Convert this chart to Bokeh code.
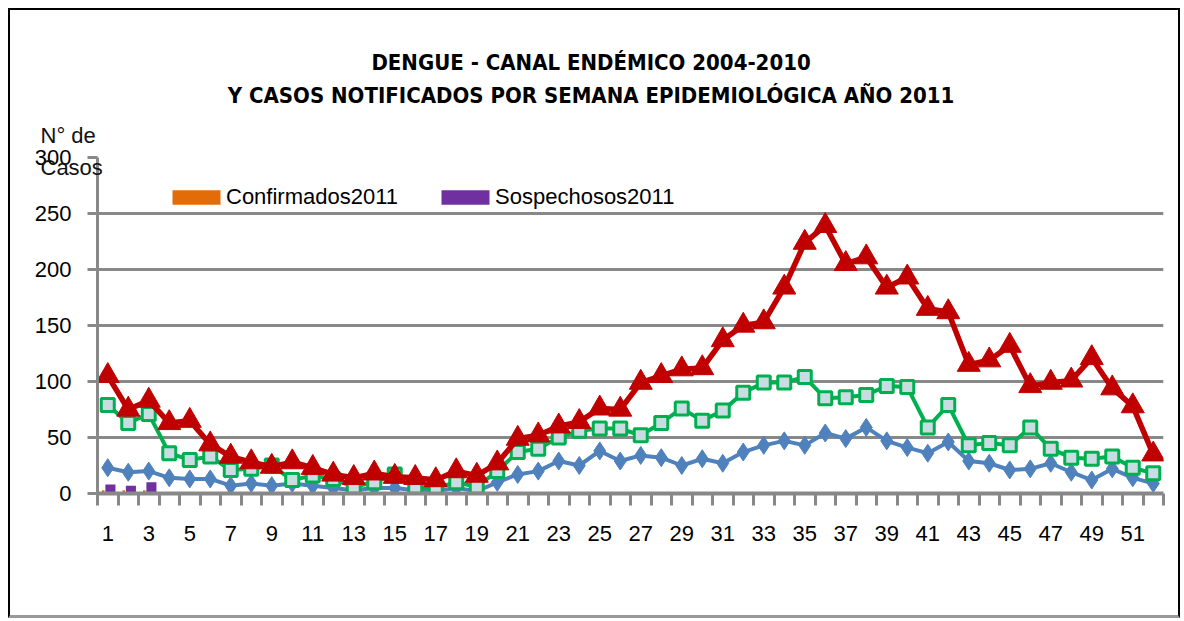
from bokeh.plotting import figure
from bokeh.layouts import column
from bokeh.models import Range1d, FixedTicker, Legend, LegendItem, Title
from bokeh.core.properties import value
from bokeh.embed import file_html
from bokeh.resources import INLINE

weeks = list(range(1, 53))
tick_labels = [str(w) for w in weeks if w % 2 == 1]

epidemia = [105, 75, 83, 63, 65, 44, 33, 28, 24, 28, 23, 17, 14, 18, 15, 14, 12, 20, 16, 27,
            49, 52, 60, 64, 76, 75, 99, 105, 111, 112, 137, 150, 153, 184, 224, 239, 205, 211, 184, 193,
            165, 162, 115, 119, 132, 96, 99, 101, 121, 94, 78, 35]
alerta = [79, 63, 71, 36, 30, 33, 21, 22, 25, 12, 16, 13, 6, 10, 17, 6, 5, 10, 6, 20,
          37, 40, 50, 56, 58, 58, 52, 63, 76, 65, 74, 90, 99, 99, 104, 85, 86, 88, 96, 95,
          59, 79, 43, 45, 43, 59, 40, 32, 31, 33, 23, 18]
seguridad = [23, 19, 20, 14, 13, 13, 7, 9, 7, 9, 7, 5, 3, 5, 5, 3, 2, 5, 2, 10,
             17, 20, 29, 25, 38, 29, 34, 32, 25, 31, 27, 37, 43, 47, 43, 54, 49, 59, 47, 41,
             36, 46, 29, 27, 21, 22, 27, 19, 12, 22, 14, 9]

bar_weeks = [1, 2, 3]
confirmados = [3, 3, 3]
sospechosos = [8, 7, 10]

title_lines = ["DENGUE - CANAL ENDÉMICO  2004-2010",
               "Y CASOS NOTIFICADOS POR SEMANA EPIDEMIOLÓGICA  AÑO 2011"]
y_label_lines = ["N° de", "Casos"]

GRAY = "#888888"
FONT = "Liberation Sans"
NARROW = "Liberation Sans Narrow, DejaVu Sans Condensed, Liberation Sans"

W = 1168
HEAD_H = 101
FRAME_L, FRAME_R = 87, W - 15

# ---- header strip carrying the two centred title lines ----
# (the column aligns its plot areas, so the header's x range spans the same pixels as the chart's)
head = figure(width=W, height=HEAD_H, output_backend="svg", toolbar_location=None,
              x_range=Range1d(FRAME_L, FRAME_R), y_range=Range1d(HEAD_H, 0),
              x_axis_type=None, y_axis_type=None,
              min_border=0, min_border_left=0, min_border_right=0,
              min_border_top=0, min_border_bottom=0)
head.title.visible = False
head.outline_line_color = None
head.grid.visible = False
head.text(x=[W / 2, W / 2], y=[52, 85], text=title_lines,
          text_align="center", text_baseline="middle",
          text_font=value(NARROW), text_font_style="bold",
          text_font_size="22px", text_color="#000")

# ---- main chart ----
p = figure(width=W, height=615 - 10 - HEAD_H, output_backend="svg", toolbar_location=None,
           x_range=Range1d(0.5, 52.5), y_range=Range1d(0, 300),
           min_border_left=FRAME_L, min_border_right=15, min_border_top=0, min_border_bottom=122)
p.title.visible = False
p.outline_line_color = None
p.background_fill_color = "white"

# grid
p.xgrid.visible = False
p.ygrid.ticker = FixedTicker(ticks=[50, 100, 150, 200, 250, 300])
p.ygrid.grid_line_color = GRAY
p.ygrid.grid_line_width = 3

# y axis
p.yaxis.ticker = FixedTicker(ticks=[0, 50, 100, 150, 200, 250, 300])
p.yaxis.axis_line_color = GRAY
p.yaxis.axis_line_width = 3
p.yaxis.major_tick_line_color = GRAY
p.yaxis.major_tick_line_width = 3
p.yaxis.major_tick_out = 10
p.yaxis.major_tick_in = 0
p.yaxis.minor_tick_line_color = None
p.yaxis.major_label_standoff = 16
p.yaxis.major_label_text_font = FONT
p.yaxis.major_label_text_font_size = "22px"
p.yaxis.major_label_text_color = "#000"

# x axis: labels at odd weeks, tick marks at week boundaries (as minor ticks)
p.xaxis.ticker = FixedTicker(ticks=[int(t) for t in tick_labels],
                             minor_ticks=[w - 0.5 for w in weeks] + [weeks[-1] + 0.5])
p.xaxis.axis_line_color = GRAY
p.xaxis.axis_line_width = 4
p.xaxis.major_tick_line_color = None
p.xaxis.major_tick_out = 12
p.xaxis.major_tick_in = 0
p.xaxis.minor_tick_line_color = GRAY
p.xaxis.minor_tick_line_width = 3
p.xaxis.minor_tick_out = 12
p.xaxis.minor_tick_in = 0
p.xaxis.major_label_standoff = 20
p.xaxis.major_label_text_font = FONT
p.xaxis.major_label_text_font_size = "22px"
p.xaxis.major_label_text_color = "#000"

# bars
rb1 = p.vbar(x=[w - 0.22 for w in bar_weeks], top=confirmados, width=0.12,
             fill_color="#E36C09", line_color=None)
rb2 = p.vbar(x=[w + 0.13 for w in bar_weeks], top=sospechosos, width=0.49,
             fill_color="#7030A0", line_color=None)

# lines
p.line(weeks, seguridad, line_color="#4F81BD", line_width=4)
p.scatter(weeks, seguridad, marker="diamond", size=18, fill_color="#4F81BD", line_color="#4F81BD")

p.line(weeks, alerta, line_color="#00B050", line_width=4)
p.scatter(weeks, alerta, marker="square", size=13, fill_color="#C8DCE2", line_color="#00B050", line_width=3)

p.line(weeks, epidemia, line_color="#C00000", line_width=5.5)
p.scatter(weeks, epidemia, marker="triangle", size=23, fill_color="#C00000", line_color="#C00000")

legend = Legend(items=[LegendItem(label="Confirmados2011", renderers=[rb1]),
                       LegendItem(label="Sospechosos2011", renderers=[rb2])],
                orientation="horizontal", location=(69, 283), glyph_width=60, glyph_height=18,
                label_standoff=0, spacing=37, padding=0, margin=0,
                border_line_color=None, background_fill_alpha=0,
                label_text_font=FONT, label_text_font_size="22px", label_text_color="#000")
p.add_layout(legend)

# "N° de / Casos" above the value axis, reaching slightly into the plot area
# (leading empty line centres the block on "N° de")
p.add_layout(Title(text="\n" + "\n".join(y_label_lines), align="left", offset=-57,
                   vertical_align="bottom", standoff=-45, text_font=FONT,
                   text_font_style="normal", text_font_size="22px",
                   text_line_height=1.28, text_color="#111"), "above")

layout = column(head, p, spacing=0,
                styles={"margin-left": "8px", "margin-top": "8px",
                        "border-left": "2px solid #000", "border-top": "2px solid #000",
                        "border-right": "2px solid #000", "border-bottom": "3px solid #999"})

open("out.html", "w").write(file_html(layout, INLINE))
